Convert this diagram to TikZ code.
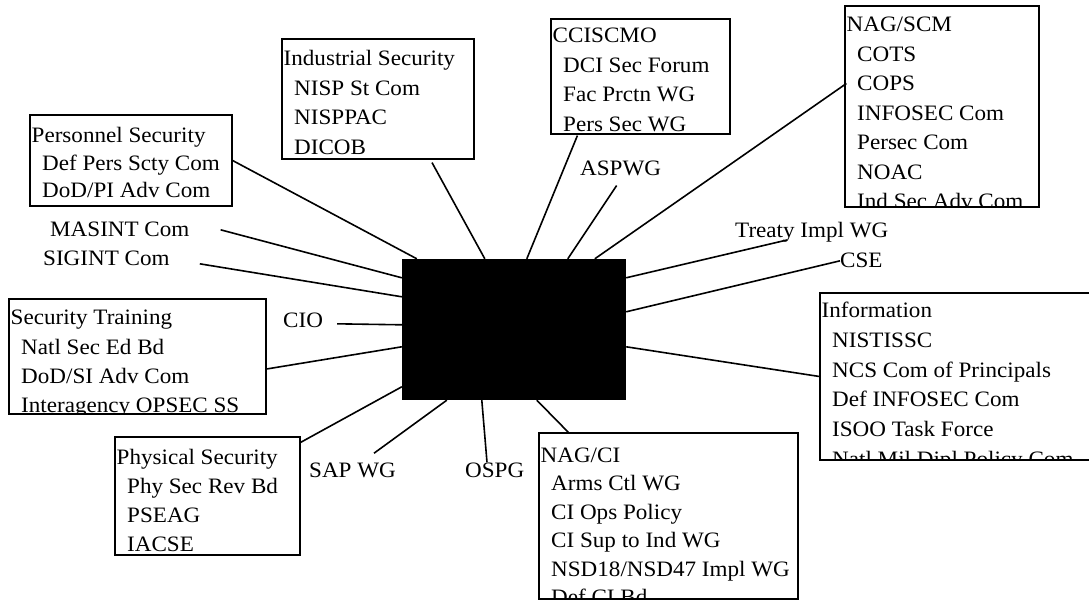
\documentclass[tikz,border=0pt]{standalone}
\usepackage{fontspec}
\setmainfont{Liberation Serif}[FakeStretch=1.05]
\usetikzlibrary{fit,calc}

\tikzset{
  frame/.style={draw, line width=1.2pt, inner sep=0pt},
  hub/.style={fill=black, inner sep=0pt},
  lbl/.style={font=\fontsize{22}{26}\selectfont, inner sep=0pt, anchor=base west},
  link/.style={line width=1.6pt},
}

% #1 name, #2-#5 corners, #6 first baseline, #7 line gap, #8 title, #9 members
\newcommand{\orgbox}[9]{%
  \node[frame, fit={(#2,#3) (#4,#5)}] (#1) {};
  \begin{scope}
    \clip (#1.south west) rectangle (#1.north east);
    \node[lbl] (#1-0) at ({#2+1.5},{#3+#6}) {#8};
    \foreach \entry [count=\i] in {#9}
      \node[lbl] (#1-\i) at ({#2+12},{#3+#6+#7*\i}) {\entry};
  \end{scope}}

\begin{document}
\begin{tikzpicture}[x=1pt, y=-1pt]
    \useasboundingbox (0,0) rectangle (1089,601);
    \node[hub, fit={(402,259) (626,400)}] (ctr) {};
    % boxes round the hub
    \orgbox{pers}{30}{115}{232}{206}{28}{27.5}{Personnel Security}{Def Pers Scty Com, DoD/PI Adv Com}
    \orgbox{ind}{282}{39}{474}{159}{27}{29.5}{Industrial Security}{NISP St Com, NISPPAC, DICOB}
    \orgbox{cc}{551}{19}{730}{134}{24}{29.5}{CCISCMO}{DCI Sec Forum, Fac Prctn WG, Pers Sec WG}
    \orgbox{scm}{845}{6}{1039}{207}{26}{29.5}{NAG/SCM}{COTS, COPS, INFOSEC Com, Persec Com, NOAC, Ind Sec Adv Com}
    \orgbox{train}{9}{299}{266}{414}{26}{29}{Security Training}{Natl Sec Ed Bd, DoD/SI Adv Com, Interagency OPSEC SS}
    \orgbox{phys}{115}{437}{300}{555}{27}{29.3}{Physical Security}{Phy Sec Rev Bd, PSEAG, IACSE}
    \orgbox{naci}{539}{433}{798}{599}{29}{28.5}{NAG/CI}{Arms Ctl WG, CI Ops Policy, CI Sup to Ind WG, NSD18/NSD47 Impl WG, Def CI Bd}
    \orgbox{info}{820}{293}{1100}{460}{25}{29.6}{Information}{NISTISSC, NCS Com of Principals, Def INFOSEC Com, ISOO Task Force, Natl Mil Dipl Policy Com}
    % single bodies
    \node[lbl] (masint) at (50,237) {MASINT Com};
    \node[lbl] (sigint) at (43,266) {SIGINT Com};
    \node[lbl] (cio) at (283,327) {CIO};
    \node[lbl] (aspwg) at (580,176) {ASPWG};
    \node[lbl] (treaty) at (735,238) {Treaty Impl WG};
    \node[lbl] (cse) at (840,268) {CSE};
    \node[lbl] (sap) at (309,477) {SAP WG};
    \node[lbl] (ospg) at (465,477) {OSPG};
    % spokes
    \draw[link] (pers.east) -- ($(ctr.north west)+(15,0)$);
    \draw[link] ([xshift=54pt,yshift=-3pt]ind.south) -- ($(ctr.north west)+(83,0)$);
    \draw[link] ([xshift=27pt,yshift=-1pt]cc.south west) -- ($(ctr.north west)+(125,0)$);
    \draw[link] ([xshift=-4pt,yshift=-9pt]aspwg.south) -- ($(ctr.north west)+(166,0)$);
    \draw[link] ([xshift=2pt,yshift=23pt]scm.west) -- ($(ctr.north west)+(193,0)$);
    \draw[link] ([xshift=31pt]masint.east) -- ($(ctr.north west)+(0,19)$);
    \draw[link] ([xshift=30pt,yshift=-5pt]sigint.east) -- ($(ctr.north west)+(0,38)$);
    \draw[link] ([xshift=14pt,yshift=-4pt]cio.east) -- ($(ctr.north west)+(0,66)$);
    \draw[link] ([yshift=-12.5pt]train.east) -- ($(ctr.north west)+(0,88)$);
    \draw[link] ([yshift=-6pt]phys.north east) -- ($(ctr.north west)+(0,128)$);
    \draw[link] ([xshift=52pt,yshift=-2pt]treaty.base west) -- ($(ctr.north east)+(0,19)$);
    \draw[link] (cse.west) -- ($(ctr.north east)+(0,53)$);
    \draw[link] (info.west) -- ($(ctr.north east)+(0,88)$);
    \draw[link] ([xshift=65pt,yshift=9pt]sap.north west) -- ($(ctr.south west)+(45,0)$);
    \draw[link] ([xshift=22pt]ospg.north west) -- ($(ctr.south west)+(80,0)$);
    \draw[link] ([xshift=30pt]naci.north west) -- ($(ctr.south west)+(135,0)$);
\end{tikzpicture}
\end{document}
